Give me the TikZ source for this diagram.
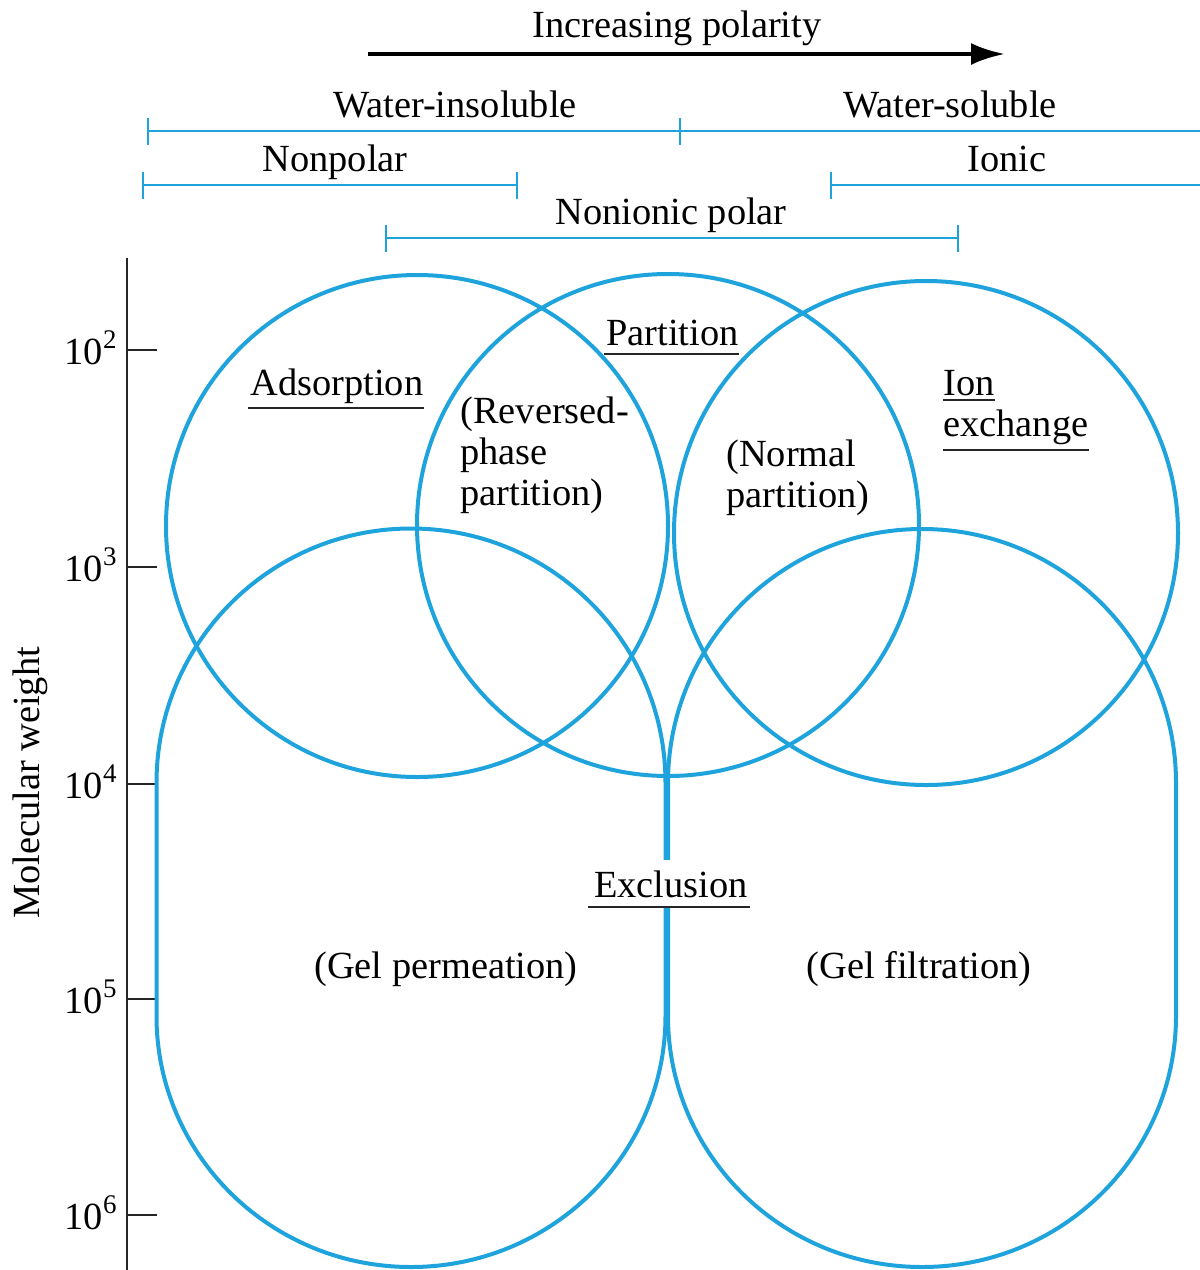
\documentclass[tikz,border=0pt]{standalone}
\usepackage{fontspec}
\setmainfont{Liberation Serif}
\usetikzlibrary{arrows.meta}
\definecolor{cblue}{RGB}{30,163,220}
\begin{document}
\begin{tikzpicture}[x=0.5pt,y=-0.5pt,
  every node/.style={font=\fontsize{19.2}{20.5}\selectfont, inner sep=0pt, text=black},
  blueline/.style={draw=cblue, line width=2pt},
  bracket/.style={draw=cblue, line width=1.1pt},
  uline/.style={draw=black!85, line width=1.3pt},
  axisline/.style={draw=black!85, line width=1.3pt},
  lbl/.style={anchor=base west},
  ctr/.style={anchor=base}]
\useasboundingbox (0,0) rectangle (1200,1270);

% polarity arrow
\node[ctr] (incr) at (677,37) {Increasing polarity};
\coordinate (arrS) at (368,54);
\coordinate (arrE) at (1005,54);
\draw[black, line width=2.3pt, -{Latex[length=17pt,width=11pt]}] (arrS) -- (arrE);

% classification brackets
\node[ctr] (winsol) at (455,117) {Water-insoluble};
\node[ctr] (wsol) at (950,117) {Water-soluble};
\draw[bracket] (148,131) -- (1200,131);
\draw[bracket] (148,118) -- (148,145);
\draw[bracket] (680,118) -- (680,145);

\node[ctr] (nonpolar) at (335,171) {Nonpolar};
\node[ctr] (ionic) at (1007,171) {Ionic};
\draw[bracket] (143,185) -- (517,185);
\draw[bracket] (143,172) -- (143,199);
\draw[bracket] (517,172) -- (517,199);
\draw[bracket] (831,185) -- (1200,185);
\draw[bracket] (831,172) -- (831,199);

\node[ctr] (nonionic) at (671,224) {Nonionic polar};
\draw[bracket] (386,238) -- (958,238);
\draw[bracket] (386,225) -- (386,252);
\draw[bracket] (958,225) -- (958,252);

% axis
\draw[axisline] (127,258) -- (127,1270);
\foreach \e/\yy in {2/350,3/567,4/784,5/999,6/1215}{
  \draw[axisline] (127,\yy) -- (157,\yy);
  \node[anchor=base east] (t\e) at (118,\yy+14) {10\textsuperscript{\e}};
}
\node[rotate=90] (mw) at (30,783) {Molecular weight};

% circles
\draw[blueline] (417,526) circle[radius=251];
\draw[blueline] (668,525) circle[radius=251];
\draw[blueline] (926,533) circle[radius=252];

% stadiums
\draw[blueline] (156.5,1016) -- (156.5,783) arc[start angle=180,end angle=360,radius=254.5]
  -- (665.5,1016) arc[start angle=0,end angle=180,x radius=254.5,y radius=251] -- cycle;
\draw[blueline] (668,1016) -- (668,783) arc[start angle=180,end angle=360,radius=254]
  -- (1176,1016) arc[start angle=0,end angle=180,x radius=254,y radius=251] -- cycle;

% labels
\node[lbl] (ads) at (250,395) {Adsorption};
\draw[uline] ([xshift=-1pt,yshift=-6.5pt]ads.base west) -- ([yshift=-6.5pt]ads.base east);
\node[lbl] (part) at (606,345) {Partition};
\draw[uline] ([xshift=-1pt,yshift=-4.5pt]part.base west) -- ([yshift=-4.5pt]part.base east);
\node[lbl] (rev1) at (460,423) {(Reversed-};
\node[lbl] (rev2) at (460,464) {phase};
\node[lbl] (rev3) at (460,505) {partition)};
\node[lbl] (nor1) at (726,466) {(Normal};
\node[lbl] (nor2) at (726,507) {partition)};
\node[lbl] (ion1) at (943,395) {Ion};
\draw[uline] ([yshift=-2.5pt]ion1.base west) -- ([yshift=-2.5pt]ion1.base east);
\node[lbl] (ion2) at (943,436) {exchange};
\draw[uline] ([yshift=-7pt]ion2.base west) -- ([yshift=-7pt]ion2.base east);

\node[ctr, fill=white, inner ysep=5pt, inner xsep=1pt] (excl) at (671,897) {Exclusion};
\draw[uline] ([xshift=-2pt,yshift=-5pt]excl.base west) -- ([yshift=-5pt]excl.base east);

\node[ctr] (gelp) at (446,978) {(Gel permeation)};
\node[ctr] (gelf) at (919,978) {(Gel filtration)};
\end{tikzpicture}
\end{document}
